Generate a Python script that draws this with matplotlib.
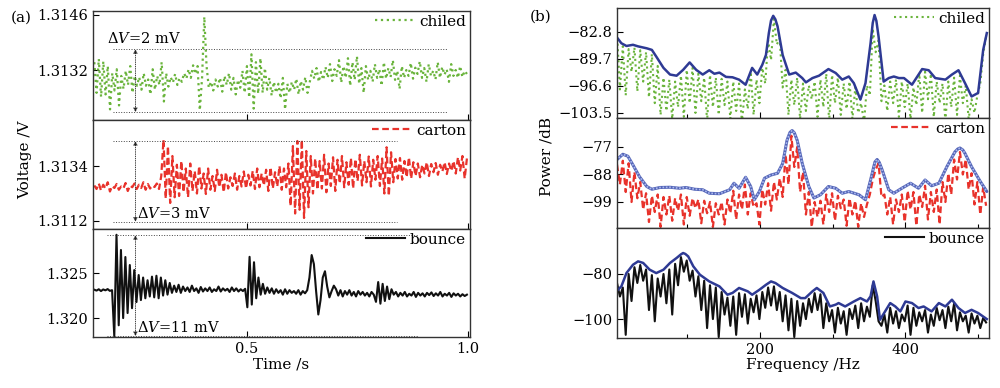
import numpy as np
import matplotlib
matplotlib.use("Agg")
import matplotlib.pyplot as plt

plt.rcParams['font.family'] = ['DejaVu Serif']
plt.rcParams['mathtext.fontset'] = 'dejavuserif'

# ---------------- data: time signals (V) ----------------
t_start, t_end = 0.155, 0.998

chiled_v = [
    1.31340, 1.31262, 1.31348, 1.31252, 1.31342, 1.31258, 1.31330, 1.31220,
    1.31312, 1.31268, 1.31322, 1.31230, 1.31305, 1.31272, 1.31318, 1.31282, 1.31330, 1.31262, 1.31305, 1.31280,
    1.31302, 1.31270, 1.31312, 1.31280, 1.31296, 1.31258, 1.31322, 1.31270, 1.31305, 1.31282, 1.31340, 1.31240,
    1.31312, 1.31278, 1.31302, 1.31288, 1.31310, 1.31282, 1.31300, 1.31290, 1.31312, 1.31298, 1.31322, 1.31300,
    1.31332, 1.31310, 1.31330,
    1.31218, 1.31300, 1.31455, 1.31330,
    1.31275, 1.31290, 1.31268, 1.31296, 1.31278, 1.31300, 1.31265, 1.31305, 1.31282, 1.31312, 1.31270, 1.31300,
    1.31258, 1.31295, 1.31275, 1.31318, 1.31262, 1.31330, 1.31250, 1.31360, 1.31222, 1.31340, 1.31260, 1.31350,
    1.31262, 1.31325, 1.31270, 1.31300, 1.31255, 1.31290, 1.31262, 1.31285, 1.31248, 1.31300, 1.31220, 1.31285,
    1.31262, 1.31290, 1.31270, 1.31298, 1.31258, 1.31292, 1.31270, 1.31302, 1.31262, 1.31290,
    1.31318, 1.31298, 1.31325, 1.31290, 1.31315, 1.31295, 1.31328, 1.31300, 1.31335, 1.31292, 1.31322, 1.31305,
    1.31345, 1.31288, 1.31330, 1.31300, 1.31350, 1.31280, 1.31340, 1.31295, 1.31355, 1.31285, 1.31325, 1.31262,
    1.31330, 1.31295, 1.31318, 1.31290, 1.31335, 1.31300, 1.31322, 1.31280, 1.31340, 1.31298, 1.31325, 1.31302,
    1.31345, 1.31295, 1.31318, 1.31272, 1.31330, 1.31300, 1.31320, 1.31305, 1.31338, 1.31298, 1.31326, 1.31310,
    1.31342, 1.31300, 1.31325, 1.31290, 1.31335, 1.31305, 1.31318, 1.31296, 1.31340, 1.31300, 1.31328, 1.31308,
    1.31322, 1.31290, 1.31335, 1.31305, 1.31320, 1.31300, 1.31330, 1.31302, 1.31318, 1.31310,
]

carton_v = [
    1.31262, 1.31248, 1.31270, 1.31242, 1.31265, 1.31250, 1.31275, 1.31238, 1.31260, 1.31252, 1.31268, 1.31245,
    1.31258, 1.31250, 1.31272, 1.31240, 1.31262, 1.31255, 1.31270, 1.31248, 1.31265, 1.31252, 1.31275, 1.31245,
    1.31268, 1.31250, 1.31262, 1.31256, 1.31270, 1.31248,
    1.31300, 1.31445, 1.31210, 1.31420, 1.31192, 1.31380, 1.31215,
    1.31345, 1.31220, 1.31360, 1.31235, 1.31330, 1.31215, 1.31350, 1.31240, 1.31320, 1.31230, 1.31340, 1.31250,
    1.31310, 1.31228, 1.31330, 1.31245, 1.31300, 1.31240, 1.31325, 1.31255, 1.31305, 1.31235, 1.31315, 1.31250,
    1.31295, 1.31260, 1.31310, 1.31245, 1.31300, 1.31258, 1.31318, 1.31250, 1.31305, 1.31262, 1.31320, 1.31248,
    1.31330, 1.31255, 1.31310, 1.31262, 1.31325, 1.31240, 1.31335, 1.31250, 1.31315, 1.31258, 1.31340, 1.31245,
    1.31330, 1.31255, 1.31350,
    1.31180, 1.31420, 1.31150, 1.31440, 1.31165, 1.31445, 1.31132, 1.31400, 1.31175, 1.31380,
    1.31230, 1.31370, 1.31245, 1.31360, 1.31250, 1.31385, 1.31235, 1.31350, 1.31260, 1.31375, 1.31240, 1.31365,
    1.31270, 1.31380, 1.31255, 1.31355, 1.31265, 1.31372, 1.31250, 1.31368, 1.31280, 1.31385, 1.31262, 1.31360,
    1.31275, 1.31378, 1.31258, 1.31365, 1.31285, 1.31380, 1.31260, 1.31370, 1.31230, 1.31415, 1.31220, 1.31395,
    1.31275, 1.31368, 1.31290, 1.31372, 1.31285, 1.31360, 1.31295, 1.31375, 1.31290, 1.31355,
    1.31300, 1.31350, 1.31295, 1.31345, 1.31310, 1.31355, 1.31300, 1.31348, 1.31315, 1.31352, 1.31305, 1.31345,
    1.31318, 1.31355, 1.31308, 1.31350, 1.31320, 1.31360, 1.31310, 1.31375, 1.31322, 1.31380, 1.31290, 1.31370,
]

bounce_v = [
    1.32315, 1.32305, 1.32320, 1.32300, 1.32318, 1.32308, 1.32322, 1.32302, 1.32310,
    1.31800, 1.32925, 1.31920, 1.32756, 1.32000, 1.32678, 1.32056, 1.32589, 1.32110, 1.32533, 1.32178, 1.32478,
    1.32200, 1.32450, 1.32220, 1.32420, 1.32240, 1.32460, 1.32230, 1.32470, 1.32220, 1.32450, 1.32250, 1.32420,
    1.32260, 1.32390,
    1.32280, 1.32360, 1.32290, 1.32370, 1.32280, 1.32350, 1.32300, 1.32340, 1.32290, 1.32360, 1.32300, 1.32330,
    1.32280, 1.32345, 1.32295, 1.32330, 1.32300, 1.32340, 1.32290, 1.32320, 1.32300, 1.32350, 1.32295, 1.32330,
    1.32305, 1.32325, 1.32290, 1.32340, 1.32300, 1.32330, 1.32295, 1.32320, 1.32300, 1.32325,
    1.32120, 1.32680, 1.32150, 1.32620, 1.32220, 1.32450,
    1.32260, 1.32380, 1.32270, 1.32340, 1.32280, 1.32330, 1.32270, 1.32320, 1.32280, 1.32310, 1.32260, 1.32320,
    1.32270, 1.32310, 1.32280, 1.32300, 1.32270, 1.32310, 1.32260, 1.32300, 1.32275, 1.32310,
    1.32450, 1.32700, 1.32600, 1.32300, 1.32040, 1.32200, 1.32450, 1.32520, 1.32350, 1.32230, 1.32300, 1.32360,
    1.32320, 1.32250, 1.32310, 1.32240, 1.32300, 1.32260, 1.32310, 1.32250, 1.32290, 1.32240, 1.32300, 1.32260,
    1.32290, 1.32250, 1.32280, 1.32240, 1.32290, 1.32260,
    1.32180, 1.32400, 1.32160, 1.32380, 1.32190, 1.32350, 1.32210, 1.32320,
    1.32260, 1.32290, 1.32240, 1.32280, 1.32250, 1.32290, 1.32240, 1.32270, 1.32250, 1.32290, 1.32235, 1.32280,
    1.32250, 1.32275, 1.32240, 1.32280, 1.32255, 1.32285, 1.32245, 1.32275, 1.32250, 1.32290, 1.32240, 1.32270,
    1.32250, 1.32280, 1.32235, 1.32275, 1.32250, 1.32270, 1.32240, 1.32265, 1.32245, 1.32260,
]

# peak-to-peak markers (V)
chiled_band = (1.31213, 1.31373)
carton_band = (1.31117, 1.31440)
bounce_band = (1.31800, 1.32922)
dv_labels = [r'$\Delta V$=2 mV', r'$\Delta V$=3 mV', r'$\Delta V$=11 mV']

# ---------------- data: spectra (dB) ----------------
f_start, f_end = 3, 511

chiled_db = [
    -83.0, -97.5, -86.5, -99.0, -87.2, -93.0, -86.8, -98.0, -87.5, -95.5, -88.0, -99.5, -88.5, -101.0, -91.5, -104.0,
    -94.5, -103.0, -95.0, -105.0, -95.5, -102.0, -94.0, -104.5, -92.5, -101.0, -92.0, -103.5, -93.5, -100.5, -94.5, -105.5,
    -93.8, -102.0, -94.5, -104.0, -94.8, -101.5, -95.5, -105.0, -95.5, -103.0, -96.0, -106.0, -97.5, -102.5, -93.0, -104.0,
    -95.0, -101.0, -92.0, -96.0, -85.0, -90.0, -79.5, -86.0, -84.5, -97.0, -92.5, -104.0, -95.0, -101.5, -94.5, -105.0,
    -96.0, -103.0, -96.5, -100.0, -95.5, -104.5, -95.0, -102.0, -93.5, -105.5, -93.8, -101.0, -94.5, -104.0, -96.0, -102.5,
    -95.5, -105.0, -97.0, -103.5, -101.0, -106.0, -96.5, -99.0, -82.0, -88.0, -85.0, -100.5, -96.5, -103.0, -95.5, -101.0,
    -95.0, -104.5, -95.5, -102.0, -96.0, -105.0, -97.0, -101.5, -93.5, -103.5, -93.0, -100.0, -93.5, -104.5, -95.5, -101.0,
    -96.0, -105.5, -95.5, -102.0, -94.5, -104.0, -94.0, -101.0, -96.5, -105.0, -100.0, -103.5, -99.0, -96.0, -88.5, -84.0,
]
chiled_env_f = [2, 9, 16, 25, 32, 44, 51, 57, 67, 76, 85, 94, 103, 112, 121, 130, 137, 144, 153, 162, 171, 180,
                189, 196, 203, 208, 212, 215, 218, 221, 224, 231, 240, 249, 258, 263, 272, 281, 294, 304, 313,
                322, 329, 338, 345, 352, 355, 357.5, 360, 363, 370, 377, 384, 391, 398, 409, 423, 432, 441,
                455, 464, 473, 482, 491, 500, 507, 512]
chiled_env_db = [-84.0, -85.7, -86.4, -86.1, -86.5, -87.0, -87.4, -89.1, -92.0, -93.7, -94.0, -92.5, -90.6, -92.5,
                 -93.7, -92.6, -93.5, -93.2, -94.3, -94.4, -95.0, -96.3, -92.0, -93.7, -91.2, -88.7, -83.1, -79.9,
                 -78.7, -79.6, -81.4, -88.7, -93.7, -93.2, -94.6, -95.7, -94.6, -94.0, -92.3, -93.3, -95.0,
                 -94.2, -95.9, -100.1, -95.9, -85.7, -80.5, -78.5, -80.0, -84.0, -95.5, -94.6, -94.2, -94.6,
                 -94.6, -96.3, -92.3, -92.6, -94.6, -95.0, -93.7, -92.6, -95.9, -99.3, -98.4, -87.4, -83.1]

carton_db = [
    -84.0, -92.0, -82.5, -95.0, -83.5, -99.0, -87.0, -97.5, -91.0, -102.0, -95.5, -107.0, -96.5, -103.0, -96.0, -109.0,
    -97.0, -104.0, -96.5, -106.5, -97.5, -102.5, -96.0, -108.0, -97.0, -104.5, -97.5, -101.5, -98.0, -107.5, -98.5, -103.5,
    -99.0, -109.0, -99.5, -104.0, -99.0, -108.0, -98.0, -103.5, -94.5, -106.0, -96.0, -102.0, -92.0, -104.0, -95.5, -101.0,
    -99.5, -108.0, -94.0, -100.0, -91.5, -102.5, -91.0, -98.0, -89.5, -97.0, -80.0, -92.0, -72.5, -85.0, -77.0, -95.0,
    -87.0, -104.0, -95.0, -109.0, -99.0, -105.0, -98.5, -108.0, -96.0, -103.0, -95.5, -106.5, -96.5, -101.5, -98.0, -108.5,
    -97.5, -104.0, -98.5, -109.0, -99.5, -105.0, -100.0, -96.0, -90.0, -86.0, -83.5, -97.0, -96.0, -104.0, -97.0, -108.0,
    -98.0, -103.0, -96.0, -107.0, -94.5, -102.0, -95.0, -108.5, -96.0, -101.0, -92.5, -106.0, -95.0, -103.0, -94.0, -108.0,
    -91.0, -99.0, -87.5, -96.0, -82.0, -90.0, -79.0, -88.0, -82.0, -94.0, -87.5, -100.0, -91.0, -104.0, -93.0, -100.5,
]
carton_env_f = [2, 11, 18, 25, 34, 44, 51, 62, 76, 89, 98, 110, 121, 130, 144, 158, 164, 171, 180, 187, 192, 199,
                206, 215, 224, 231, 237, 241, 244, 247, 251, 258, 267, 274, 283, 294, 304, 313, 322, 336, 345,
                352, 358, 361, 364, 368, 377, 384, 395, 407, 418, 427, 436, 446, 457, 468, 472, 475, 479, 482,
                491, 503, 512]
carton_env_db = [-82.3, -79.9, -80.7, -84.2, -88.9, -92.8, -93.9, -93.2, -93.1, -93.5, -93.2, -93.9, -94.1, -95.5,
                 -95.7, -94.1, -91.5, -93.5, -89.1, -92.8, -98.1, -94.8, -89.5, -88.2, -87.5, -83.6, -74.3, -71.2,
                 -70.4, -71.3, -74.3, -83.6, -92.8, -97.4, -96.1, -92.8, -93.5, -95.5, -94.8, -96.1, -98.1,
                 -90.2, -83.0, -82.0, -83.2, -86.2, -94.1, -95.5, -93.5, -91.5, -93.5, -90.2, -92.5, -91.5,
                 -84.9, -79.0, -77.8, -77.4, -78.2, -79.6, -84.9, -90.8, -94.8]

bounce_db = [
    -84.0, -90.0, -86.0, -107.0, -80.0, -92.0, -77.0, -84.0, -76.0, -83.0, -78.0, -96.0, -80.5, -101.0, -82.0, -90.0,
    -80.0, -93.0, -78.0, -98.0, -75.5, -85.0, -72.5, -79.0, -74.0, -83.0, -78.5, -90.0, -81.0, -96.0, -83.0, -104.0,
    -85.0, -100.0, -86.0, -108.0, -88.0, -98.0, -90.5, -103.0, -90.0, -107.0, -88.5, -99.0, -89.0, -102.0, -91.0, -97.0,
    -89.5, -100.0, -88.0, -95.0, -86.0, -94.0, -85.5, -96.0, -88.0, -101.0, -89.5, -105.0, -91.0, -108.0, -92.0, -103.0,
    -93.0, -100.0, -91.0, -97.0, -88.5, -96.0, -89.0, -104.0, -93.0, -101.0, -96.0, -106.0, -95.0, -102.0, -96.5, -107.0,
    -95.5, -100.0, -94.0, -104.0, -93.0, -101.0, -94.5, -99.0, -85.0, -92.0, -101.0, -103.0, -98.0, -106.0, -95.0, -102.0,
    -96.5, -104.0, -98.0, -101.0, -94.0, -107.0, -95.0, -103.0, -97.0, -101.0, -96.0, -106.0, -98.0, -103.0, -95.0, -100.5,
    -96.0, -104.0, -94.5, -101.0, -93.0, -105.0, -97.0, -101.0, -98.5, -106.0, -97.5, -102.0, -98.5, -104.0, -99.5, -101.5,
]
bounce_env_f = [2, 9, 16, 25, 32, 39, 48, 57, 67, 76, 85, 91, 94, 97, 101, 108, 117, 130, 144, 155, 162, 171, 183,
                189, 199, 208, 215, 221, 231, 244, 256, 262, 272, 278, 287, 296, 304, 308, 317, 329, 338, 347,
                352, 356, 361, 365, 372, 379, 386, 393, 400, 409, 418, 425, 436, 446, 455, 464, 473, 482, 491,
                500, 512]
bounce_env_db = [-87.7, -85.5, -79.6, -75.9, -74.4, -75.1, -78.1, -79.6, -78.1, -75.1, -72.9, -71.3, -70.7, -71.1,
                 -72.2, -76.6, -80.3, -83.3, -85.5, -89.2, -88.4, -86.2, -87.7, -89.2, -87.0, -84.8, -83.3,
                 -84.0, -86.2, -88.4, -90.7, -90.7, -87.7, -86.2, -88.4, -94.4, -93.6, -92.9, -94.4, -92.2,
                 -90.7, -92.2, -89.9, -83.3, -89.9, -100.3, -96.6, -92.9, -94.4, -96.6, -92.2, -92.9, -95.1,
                 -94.4, -96.6, -92.9, -94.4, -91.4, -95.1, -97.3, -95.9, -97.3, -100.0]

# ---------------- figure ----------------
W, H = 1000, 388
fig = plt.figure(figsize=(W / 100, H / 100), dpi=100)


def px_axes(x0, y0, x1, y1):
    return fig.add_axes([x0 / W, 1 - y1 / H, (x1 - x0) / W, (y1 - y0) / H])


GREEN = '#6ab43c'
RED = '#e8322b'
BLACK = '#111111'
NAVY = '#2e3a94'
FS = 10.5

left_rows = [(11, 120), (120, 229), (229, 337)]
right_rows = [(8, 118), (118, 228), (228, 338)]

axL = [px_axes(93, a, 470, b) for a, b in left_rows]
axR = [px_axes(617, a, 989, b) for a, b in right_rows]

for ax in axL + axR:
    ax.tick_params(direction='in', labelsize=FS, length=4, width=0.8, top=False, right=False)
    ax.tick_params(which='minor', direction='in', length=3, width=0.8)
    for s in ax.spines.values():
        s.set_linewidth(1.0)
        s.set_color('#333333')

# ---- left: time signals ----
series_t = [(chiled_v, GREEN, ':', 'chiled', 1.6),
            (carton_v, RED, (0, (3, 1.6)), 'carton', 1.6),
            (bounce_v, BLACK, '-', 'bounce', 1.5)]
ylims_L = [(1.31193, 1.3147), (1.31088, 1.31524), (1.3179, 1.32989)]
yticks_L = [[1.3132, 1.3146], [1.3112, 1.3134], [1.320, 1.325]]
ytl_L = [['1.3132', '1.3146'], ['1.3112', '1.3134'], ['1.320', '1.325']]
bands = [chiled_band, carton_band, bounce_band]
band_x = [(0.197, 0.953), (0.197, 0.84), (0.184, 0.887)]
arrow_x = 0.248
label_pos = [(0.184, 1.31400), (0.252, 1.31152), (0.252, 1.3190)]

for i, ax in enumerate(axL):
    vals, col, ls, lab, lw = series_t[i]
    t = np.linspace(t_start, t_end, len(vals))
    ax.plot(t, vals, color=col, ls=ls, lw=lw, label=lab)
    ax.set_xlim(0.152, 1.005)
    ax.set_ylim(*ylims_L[i])
    ax.set_yticks(yticks_L[i])
    ax.set_yticklabels(ytl_L[i])
    ax.set_xticks([0.5, 1.0])
    if i < 2:
        ax.set_xticklabels([])
    else:
        ax.set_xticklabels(['0.5', '1.0'])
    lo, hi = bands[i]
    x0, x1 = band_x[i]
    ax.plot([x0, x1], [hi, hi], color='#444444', ls=':', lw=0.7)
    ax.plot([x0, x1], [lo, lo], color='#444444', ls=':', lw=0.7)
    ax.annotate('', xy=(arrow_x, hi), xytext=(arrow_x, lo),
                arrowprops=dict(arrowstyle='<|-|>', lw=0.6, color='#222222',
                                mutation_scale=6, linestyle=':', shrinkA=0, shrinkB=0))
    lx, ly = label_pos[i]
    ax.text(lx, ly, dv_labels[i], fontsize=FS, va='center', ha='left')
    ax.legend(loc='upper right', frameon=False, fontsize=11, handlelength=2.6,
              handletextpad=0.3, borderaxespad=0.15, borderpad=0.1)

axL[2].set_xlabel('Time /s', fontsize=11, labelpad=1)

# ---- right: spectra ----
series_f = [(chiled_db, GREEN, ':', 'chiled', 1.5, chiled_env_f, chiled_env_db),
            (carton_db, RED, (0, (3, 1.6)), 'carton', 1.6, carton_env_f, carton_env_db),
            (bounce_db, BLACK, '-', 'bounce', 1.5, bounce_env_f, bounce_env_db)]
ylims_R = [(-104.8, -76.7), (-109.4, -65.4), (-108.4, -59.6)]
yticks_R = [[-103.5, -96.6, -89.7, -82.8], [-99, -88, -77], [-100, -80]]

for i, ax in enumerate(axR):
    vals, col, ls, lab, lw, ef, edb = series_f[i]
    f = np.linspace(f_start, f_end, len(vals))
    ax.plot(f, vals, color=col, ls=ls, lw=lw, label=lab)
    if i == 1:
        ax.plot(ef, edb, color='#5566b8', lw=2.2, solid_capstyle='round', solid_joinstyle='round')
        ax.plot(ef, edb, color='#aab8ee', lw=1.2, ls=(0, (1, 1)))
    else:
        ax.plot(ef, edb, color=NAVY, lw=1.8, solid_joinstyle='round')
    ax.set_xlim(3, 515)
    ax.set_ylim(*ylims_R[i])
    ax.set_yticks(yticks_R[i])
    ax.set_xticks([200, 400])
    ax.set_xticks([100, 300, 500], minor=True)
    if i < 2:
        ax.set_xticklabels([])
    ax.legend(loc='upper right', frameon=False, fontsize=11, handlelength=2.6,
              handletextpad=0.3, borderaxespad=0.15, borderpad=0.1)

axR[2].set_xlabel('Frequency /Hz', fontsize=11, labelpad=1)

fig.text(25 / W, 1 - 160 / H, 'Voltage /V', rotation=90, fontsize=11, ha='center', va='center')
fig.text(547 / W, 1 - 156 / H, 'Power /dB', rotation=90, fontsize=11, ha='center', va='center')
fig.text(21 / W, 1 - 18 / H, '(a)', fontsize=11, ha='center', va='center')
fig.text(541 / W, 1 - 17 / H, '(b)', fontsize=11, ha='center', va='center')

fig.savefig('out.png', dpi=100)
